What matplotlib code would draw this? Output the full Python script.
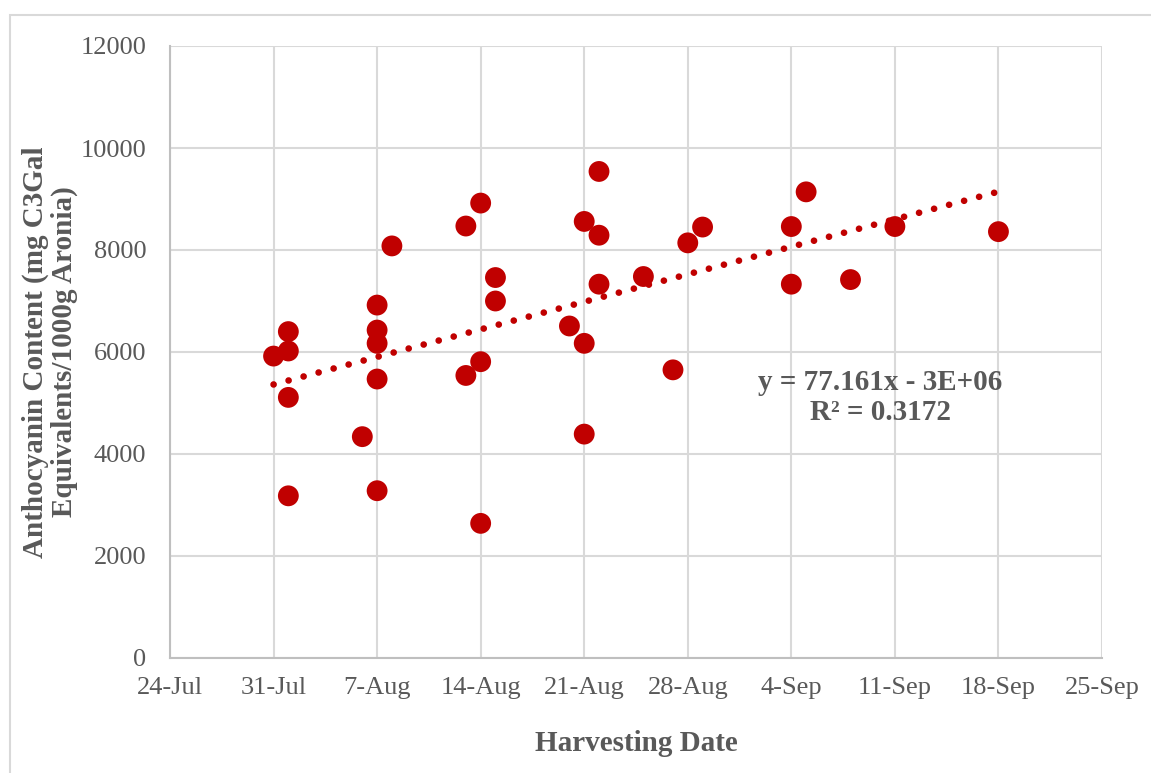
import datetime as dt
import numpy as np
import matplotlib
matplotlib.use("Agg")
import matplotlib.pyplot as plt
import matplotlib.dates as mdates
from matplotlib.patches import Rectangle

# harvest dates (month, day) and anthocyanin content for each sample
harvest_days = [
    (7, 31),
    (8, 1), (8, 1), (8, 1), (8, 1),
    (8, 6),
    (8, 7), (8, 7), (8, 7), (8, 7), (8, 7),
    (8, 8),
    (8, 13), (8, 13),
    (8, 14), (8, 14), (8, 14),
    (8, 15), (8, 15),
    (8, 20),
    (8, 21), (8, 21), (8, 21),
    (8, 22), (8, 22), (8, 22),
    (8, 25),
    (8, 27),
    (8, 28),
    (8, 29),
    (9, 4), (9, 4),
    (9, 5),
    (9, 8),
    (9, 11),
    (9, 18),
]
anthocyanin = [
    5920,
    6400, 6020, 5110, 3180,
    4340,
    6920, 6430, 6170, 5470, 3280,
    8080,
    8470, 5540,
    8920, 5810, 2640,
    7460, 7000,
    6510,
    8560, 6170, 4390,
    9540, 8290, 7330,
    7480,
    5650,
    8140,
    8450,
    8460, 7330,
    9140,
    7420,
    8460,
    8360,
]

trend_slope = 77.161
equation_text = "y = 77.161x - 3E+06\nR\u00b2 = 0.3172"

year = 2018
dates = [dt.date(year, m, d) for m, d in harvest_days]
x = mdates.date2num(dates)
y = np.array(anthocyanin, dtype=float)

red = "#C00000"
grey_text = "#595959"
grid_col = "#D9D9D9"

plt.rcParams["font.family"] = ["Liberation Serif", "DejaVu Serif"]

fig = plt.figure(figsize=(11.51, 7.73), dpi=100)
ax = fig.add_axes([170 / 1151, 1 - 658 / 773, 932 / 1151, 612 / 773])

# outer chart frame
fig.patches.append(Rectangle((10 / 1151, -0.01), 1.0, 1 - 15 / 773 + 0.01,
                             transform=fig.transFigure, fill=False,
                             edgecolor=grid_col, linewidth=1.5))

ax.scatter(x, y, s=225, color=red, edgecolors="none", zorder=3)

# linear trend through the data mean with the reported slope
intercept = y.mean() - trend_slope * x.mean()
tx = np.array([x.min(), x.max()])
ax.plot(tx, trend_slope * tx + intercept, color=red, linewidth=4.8,
        linestyle=(0, (0.01, 2.32)), dash_capstyle="round", zorder=2)

ax.text(0.762, 0.426, equation_text, transform=ax.transAxes,
        ha="center", va="center", multialignment="center",
        fontsize=21, fontweight="bold", color=grey_text, linespacing=1.15)

start = mdates.date2num(dt.date(year, 7, 24))
ticks = [start + 7 * i for i in range(10)]
ax.set_xlim(ticks[0], ticks[-1])
ax.set_ylim(0, 12000)
ax.set_xticks(ticks)
ax.set_xticklabels([f"{mdates.num2date(t).day}-{mdates.num2date(t).strftime('%b')}"
                    for t in ticks])
ax.set_yticks(np.arange(0, 12001, 2000))

ax.grid(True, color=grid_col, linewidth=1.5)
ax.set_axisbelow(True)
for side in ["top", "right"]:
    ax.spines[side].set_visible(False)
for side in ["left", "bottom"]:
    ax.spines[side].set_color("#BFBFBF")
    ax.spines[side].set_linewidth(1.5)

ax.tick_params(axis="both", length=0, labelsize=19, colors=grey_text)
ax.tick_params(axis="x", pad=14)
ax.tick_params(axis="y", pad=17)

ax.set_xlabel("Harvesting Date", fontsize=21, fontweight="bold",
              color=grey_text, labelpad=22)
ax.set_ylabel("Anthocyanin Content (mg C3Gal\nEquivalents/1000g Aronia)",
              fontsize=21, fontweight="bold", color=grey_text,
              labelpad=2, linespacing=1.05)

fig.savefig("out.png", dpi=100)
